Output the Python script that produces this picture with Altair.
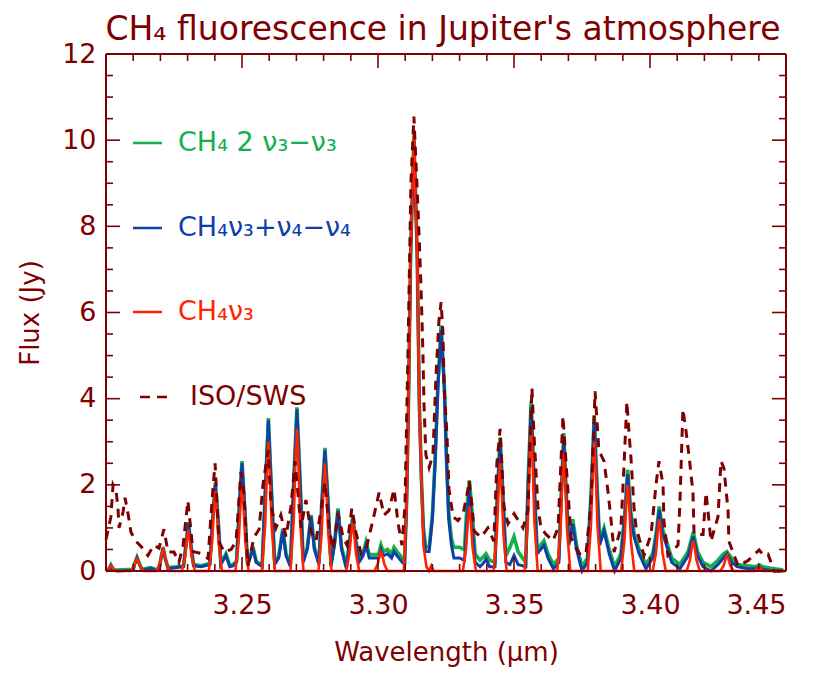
import altair as alt
import pandas as pd

# ---------------- data ----------------
# CH4 nu3 (red)
red_w = [3.2000, 3.2006, 3.2012, 3.2018, 3.2024, 3.2030, 3.2036,
         3.2090, 3.2102, 3.2109, 3.2114, 3.2119, 3.2126, 3.2138,
         3.2186, 3.2198, 3.2205, 3.2210, 3.2215, 3.2222, 3.2234,
         3.2279, 3.2291, 3.2298, 3.2303, 3.2308, 3.2315, 3.2327,
         3.2378, 3.2390, 3.2397, 3.2402, 3.2407, 3.2414, 3.2426,
         3.2476, 3.2488, 3.2495, 3.2500, 3.2505, 3.2512, 3.2524,
         3.2573, 3.2585, 3.2592, 3.2597, 3.2602, 3.2609, 3.2621,
         3.2678, 3.2690, 3.2697, 3.2702, 3.2707, 3.2714, 3.2726,
         3.2781, 3.2793, 3.2800, 3.2805, 3.2810, 3.2817, 3.2829,
         3.2883, 3.2895, 3.2902, 3.2907, 3.2912, 3.2919, 3.2931,
         3.2987, 3.2999, 3.3006, 3.3011, 3.3016, 3.3023, 3.3035,
         3.3095, 3.3105, 3.3112, 3.3120, 3.3132, 3.3144, 3.3152, 3.3159, 3.3167, 3.3178, 3.3188, 3.3196, 3.3204,
         3.3312, 3.3324, 3.3331, 3.3336, 3.3341, 3.3348, 3.3360,
         3.3425, 3.3437, 3.3444, 3.3449, 3.3454, 3.3461, 3.3473,
         3.3539, 3.3551, 3.3558, 3.3563, 3.3568, 3.3575, 3.3587,
         3.3659, 3.3671, 3.3678, 3.3683, 3.3688, 3.3695, 3.3707,
         3.3771, 3.3783, 3.3790, 3.3795, 3.3800, 3.3807, 3.3819,
         3.3894, 3.3906, 3.3913, 3.3918, 3.3923, 3.3930, 3.3942,
         3.4010, 3.4022, 3.4029, 3.4034, 3.4039, 3.4046, 3.4058,
         3.4135, 3.4147, 3.4154, 3.4159, 3.4164, 3.4171, 3.4183,
         3.4259, 3.4271, 3.4278, 3.4283, 3.4288, 3.4295, 3.4307,
         3.4385, 3.4395, 3.4401, 3.4407, 3.4417, 3.4500]
red_v = [0.0, 0.02, 0.09, 0.12, 0.09, 0.02, 0.0,
         0.0, 0.1, 0.22, 0.28, 0.22, 0.1, 0.0,
         0.0, 0.18, 0.4, 0.5, 0.4, 0.18, 0.0,
         0.0, 0.33, 0.76, 0.95, 0.76, 0.33, 0.0,
         0.0, 0.65, 1.48, 1.85, 1.48, 0.65, 0.0,
         0.0, 0.7, 1.6, 2.0, 1.6, 0.7, 0.0,
         0.0, 1.05, 2.4, 3.0, 2.4, 1.05, 0.0,
         0.0, 1.15, 2.64, 3.3, 2.64, 1.15, 0.0,
         0.0, 0.88, 2.0, 2.5, 2.0, 0.88, 0.0,
         0.0, 0.4, 0.92, 1.15, 0.92, 0.4, 0.0,
         0.0, 0.16, 0.36, 0.45, 0.36, 0.16, 0.0,
         0.0, 1.5, 3.8, 7.3, 10.2, 7.3, 3.8, 2.3, 0.6, 0.1, 0.0, 0.12, 0.0,
         0.0, 0.53, 1.2, 1.5, 1.2, 0.53, 0.0,
         0.0, 0.88, 2.0, 2.5, 2.0, 0.88, 0.0,
         0.0, 1.17, 2.68, 3.35, 2.68, 1.17, 0.0,
         0.0, 0.96, 2.2, 2.75, 2.2, 0.96, 0.0,
         0.0, 1.05, 2.4, 3.0, 2.4, 1.05, 0.0,
         0.0, 0.7, 1.6, 2.0, 1.6, 0.7, 0.0,
         0.0, 0.42, 0.96, 1.2, 0.96, 0.42, 0.0,
         0.0, 0.25, 0.56, 0.7, 0.56, 0.25, 0.0,
         0.0, 0.13, 0.29, 0.36, 0.29, 0.13, 0.0,
         0.0, 0.05, 0.1, 0.05, 0.0, 0.0]

# CH4 nu3+nu4-nu4 (blue) and CH4 2nu3-nu3 (green), same wavelength grid
band_w = [3.2000, 3.2010, 3.2018, 3.2026, 3.2040, 3.2100, 3.2105, 3.2114, 3.2123, 3.2132,
          3.2165, 3.2180, 3.2195, 3.2201, 3.2210, 3.2219, 3.2228, 3.2260, 3.2285, 3.2293,
          3.2303, 3.2313, 3.2322, 3.2350, 3.2382, 3.2391, 3.2402, 3.2413, 3.2422, 3.2441,
          3.2455, 3.2467, 3.2480, 3.2489, 3.2500, 3.2511, 3.2520, 3.2530, 3.2540, 3.2552,
          3.2574, 3.2586, 3.2597, 3.2608, 3.2620, 3.2635, 3.2650, 3.2662, 3.2678, 3.2690,
          3.2702, 3.2714, 3.2725, 3.2740, 3.2754, 3.2766, 3.2783, 3.2793, 3.2805, 3.2817,
          3.2827, 3.2840, 3.2853, 3.2866, 3.2884, 3.2895, 3.2907, 3.2919, 3.2930, 3.2945,
          3.2956, 3.2968, 3.2990, 3.3003, 3.3011, 3.3019, 3.3035, 3.3050, 3.3059, 3.3070,
          3.3090, 3.3098, 3.3105, 3.3112, 3.3120, 3.3132, 3.3144, 3.3152, 3.3160, 3.3167,
          3.3175, 3.3188, 3.3200, 3.3210, 3.3220, 3.3232, 3.3244, 3.3252, 3.3260, 3.3270,
          3.3279, 3.3300, 3.3318, 3.3325, 3.3336, 3.3347, 3.3357, 3.3375, 3.3390, 3.3397,
          3.3410, 3.3430, 3.3438, 3.3449, 3.3460, 3.3470, 3.3485, 3.3500, 3.3515, 3.3543,
          3.3552, 3.3563, 3.3574, 3.3585, 3.3598, 3.3610, 3.3625, 3.3645, 3.3665, 3.3673,
          3.3683, 3.3693, 3.3702, 3.3716, 3.3730, 3.3750, 3.3770, 3.3784, 3.3795, 3.3806,
          3.3815, 3.3831, 3.3850, 3.3870, 3.3893, 3.3907, 3.3918, 3.3929, 3.3941, 3.3960,
          3.3985, 3.4010, 3.4023, 3.4034, 3.4045, 3.4060, 3.4080, 3.4100, 3.4110, 3.4140,
          3.4159, 3.4175, 3.4195, 3.4224, 3.4250, 3.4270, 3.4283, 3.4300, 3.4320, 3.4360,
          3.4390, 3.4401, 3.4415, 3.4440, 3.4460, 3.4490]
blue_v = [0.0, 0.02, 0.12, 0.02, 0.0, 0.02, 0.15, 0.3, 0.15, 0.02,
          0.06, 0.02, 0.03, 0.25, 0.52, 0.25, 0.05, 0.08, 0.1, 0.55,
          1.1, 0.55, 0.12, 0.1, 0.15, 1.1, 2.0, 1.1, 0.15, 0.36,
          0.1, 0.12, 0.2, 1.35, 2.5, 1.35, 0.15, 0.3, 0.53, 0.2,
          0.1, 1.9, 3.5, 1.9, 0.15, 0.3, 0.93, 0.35, 0.1, 2.0,
          3.75, 2.0, 0.2, 0.5, 1.26, 0.5, 0.15, 1.5, 2.8, 1.5,
          0.1, 0.6, 1.4, 0.5, 0.05, 0.65, 1.2, 0.65, 0.2, 0.35,
          0.6, 0.3, 0.3, 0.3, 0.5, 0.35, 0.4, 0.3, 0.45, 0.35,
          0.2, 0.15, 1.5, 3.8, 7.3, 10.0, 7.3, 3.8, 2.0, 0.9,
          0.45, 0.45, 1.2, 2.5, 4.2, 5.6, 4.2, 2.5, 1.2, 0.6,
          0.3, 0.3, 0.25, 1.0, 1.9, 1.0, 0.2, 0.1, 0.2, 0.28,
          0.1, 0.1, 1.6, 3.0, 1.6, 0.2, 0.15, 0.36, 0.15, 0.1,
          2.0, 3.8, 2.0, 0.4, 0.5, 0.6, 0.3, 0.05, 0.2, 1.6,
          3.05, 1.6, 0.6, 1.09, 0.5, 0.0, 0.2, 1.8, 3.45, 1.8,
          0.6, 0.93, 0.4, 0.0, 0.3, 1.2, 2.25, 1.3, 0.8, 0.4,
          0.05, 0.3, 0.8, 1.42, 0.9, 0.6, 0.2, 0.1, 0.05, 0.35,
          0.8, 0.35, 0.1, 0.0, 0.15, 0.3, 0.4, 0.2, 0.1, 0.05,
          0.05, 0.1, 0.04, 0.02, 0.0, 0.0]
green_v = [0.02, 0.04, 0.14, 0.04, 0.02, 0.04, 0.17, 0.32, 0.17, 0.04,
           0.08, 0.04, 0.05, 0.27, 0.55, 0.27, 0.08, 0.1, 0.12, 0.57,
           1.13, 0.57, 0.15, 0.12, 0.18, 1.13, 2.05, 1.13, 0.18, 0.4,
           0.13, 0.15, 0.23, 1.38, 2.55, 1.38, 0.18, 0.33, 0.57, 0.23,
           0.13, 1.93, 3.55, 1.93, 0.2, 0.35, 0.98, 0.4, 0.15, 2.05,
           3.8, 2.05, 0.25, 0.55, 1.3, 0.55, 0.2, 1.55, 2.86, 1.55,
           0.15, 0.65, 1.45, 0.55, 0.1, 0.7, 1.25, 0.7, 0.27, 0.42,
           0.68, 0.38, 0.38, 0.4, 0.6, 0.45, 0.5, 0.4, 0.55, 0.45,
           0.3, 0.25, 1.6, 3.9, 7.4, 10.1, 7.4, 3.9, 2.1, 1.0,
           0.55, 0.55, 1.3, 2.6, 4.3, 5.7, 4.3, 2.6, 1.35, 0.75,
           0.55, 0.55, 0.5, 1.3, 2.1, 1.3, 0.4, 0.25, 0.35, 0.4,
           0.25, 0.2, 1.7, 3.1, 1.7, 0.35, 0.55, 0.8, 0.45, 0.2,
           2.1, 3.95, 2.1, 0.5, 0.6, 0.7, 0.4, 0.15, 0.3, 1.7,
           3.2, 1.7, 0.7, 1.2, 0.6, 0.1, 0.3, 1.9, 3.6, 1.9,
           0.7, 1.0, 0.5, 0.1, 0.4, 1.3, 2.35, 1.4, 0.9, 0.5,
           0.15, 0.4, 0.9, 1.5, 1.0, 0.7, 0.3, 0.2, 0.15, 0.45,
           0.9, 0.45, 0.2, 0.1, 0.25, 0.4, 0.45, 0.3, 0.15, 0.12,
           0.1, 0.15, 0.1, 0.07, 0.05, 0.02]

# ISO/SWS observed spectrum (dashed)
iso_w = [3.2000, 3.2018, 3.2026, 3.2037, 3.2044, 3.2048, 3.2063, 3.2070, 3.2081, 3.2092,
         3.2110, 3.2129, 3.2154, 3.2176, 3.2195, 3.2213, 3.2228, 3.2250, 3.2268, 3.2283,
         3.2301, 3.2320, 3.2349, 3.2375, 3.2393, 3.2401, 3.2415, 3.2434, 3.2460, 3.2478,
         3.2496, 3.2507, 3.2522, 3.2544, 3.2563, 3.2577, 3.2596, 3.2607, 3.2625, 3.2643,
         3.2662, 3.2680, 3.2695, 3.2717, 3.2735, 3.2754, 3.2772, 3.2790, 3.2805, 3.2820,
         3.2835, 3.2853, 3.2871, 3.2886, 3.2904, 3.2919, 3.2938, 3.2956, 3.2982, 3.3004,
         3.3022, 3.3040, 3.3059, 3.3074, 3.3088, 3.3099, 3.3110, 3.3121, 3.3132, 3.3143,
         3.3151, 3.3158, 3.3165, 3.3169, 3.3176, 3.3188, 3.3202, 3.3213, 3.3224, 3.3232,
         3.3239, 3.3243, 3.3254, 3.3261, 3.3276, 3.3294, 3.3313, 3.3331, 3.3335, 3.3346,
         3.3353, 3.3379, 3.3404, 3.3426, 3.3437, 3.3449, 3.3463, 3.3478, 3.3500, 3.3533,
         3.3551, 3.3566, 3.3574, 3.3588, 3.3599, 3.3618, 3.3643, 3.3662, 3.3680, 3.3691,
         3.3710, 3.3728, 3.3746, 3.3765, 3.3783, 3.3798, 3.3812, 3.3831, 3.3846, 3.3857,
         3.3868, 3.3893, 3.3904, 3.3915, 3.3923, 3.3930, 3.3941, 3.3949, 3.3978, 3.4004,
         3.4022, 3.4033, 3.4048, 3.4051, 3.4066, 3.4103, 3.4110, 3.4121, 3.4132, 3.4143,
         3.4158, 3.4162, 3.4176, 3.4195, 3.4206, 3.4213, 3.4224, 3.4250, 3.4261, 3.4272,
         3.4287, 3.4290, 3.4324, 3.4360, 3.4401, 3.4419, 3.4434, 3.4456, 3.4489]
iso_v = [0.73, 1.26, 2.0, 1.86, 1.46, 1.0, 1.38, 1.7, 1.33, 0.9,
         0.69, 0.57, 0.36, 0.6, 0.53, 0.97, 0.44, 0.44, 0.2, 0.57,
         1.63, 0.45, 0.41, 0.29, 1.9, 2.5, 0.69, 0.44, 0.5, 0.69,
         2.3, 1.8, 0.12, 0.78, 0.97, 2.0, 2.8, 1.5, 1.0, 1.3,
         0.8, 1.5, 2.55, 1.0, 1.65, 0.9, 0.7, 1.4, 2.06, 1.0,
         0.5, 1.34, 0.8, 0.6, 1.46, 0.9, 0.4, 0.5, 1.2, 1.82,
         1.3, 1.4, 1.9, 1.1, 0.6, 1.5, 5.0, 9.0, 10.55, 9.0,
         7.8, 6.6, 5.1, 3.9, 2.7, 2.4, 2.7, 4.5, 5.8, 6.24,
         5.5, 4.3, 3.1, 1.9, 1.26, 1.17, 1.33, 1.9, 2.1, 1.5,
         0.93, 0.78, 1.0, 0.69, 2.5, 3.3, 1.5, 1.1, 1.33, 1.0,
         1.4, 4.25, 3.1, 1.5, 1.0, 0.85, 0.7, 1.0, 3.6, 2.55,
         0.77, 0.53, 0.36, 0.44, 1.58, 4.17, 2.8, 2.55, 1.82, 1.17,
         0.44, 1.0, 2.38, 3.93, 3.2, 2.62, 1.5, 1.0, 0.36, 0.85,
         2.0, 2.55, 2.0, 1.17, 0.36, 0.6, 1.58, 3.76, 3.27, 2.7,
         1.82, 0.85, 0.85, 0.85, 1.82, 1.4, 0.69, 1.26, 2.55, 2.38,
         1.4, 0.69, 0.12, 0.24, 0.49, 0.36, 0.39, 0.0, 0.0]

# axis ticks and labels
x_labels = [3.25, 3.30, 3.35, 3.40, 3.45]
x_major_ticks = [3.25, 3.30, 3.35, 3.40]
x_minor_ticks = [3.21, 3.22, 3.23, 3.24, 3.26, 3.27, 3.28, 3.29, 3.31, 3.32, 3.33, 3.34,
                 3.36, 3.37, 3.38, 3.39, 3.41, 3.42, 3.43, 3.44]
y_labels = [0, 2, 4, 6, 8, 10, 12]
y_major_ticks = [2, 4, 6, 8, 10]
y_minor_ticks = [0.5, 1, 1.5, 2.5, 3, 3.5, 4.5, 5, 5.5, 6.5, 7, 7.5, 8.5, 9, 9.5,
                 10.5, 11, 11.5]

title_text = ["CH₄ fluorescence in Jupiter's atmosphere"]
legend_labels = ["CH₄ 2 ν₃−ν₃", "CH₄ν₃+ν₄−ν₄", "CH₄ν₃", "ISO/SWS"]

# ---------------- style ----------------
DARK = "#7f0000"
GREEN = "#14b04c"
BLUE = "#0f40a8"
RED = "#ff2400"
FONT = "DejaVu Sans"
W, H = 680, 517

xscale = alt.Scale(domain=[3.20, 3.45], nice=False, zero=False)
yscale = alt.Scale(domain=[0, 12], nice=False, zero=False)

x_enc = alt.X("w:Q", scale=xscale,
              axis=alt.Axis(values=x_labels, format=".2f", ticks=False, domain=False, grid=False,
                            labelFont=FONT, labelFontSize=27, labelColor=DARK, labelPadding=21,
                            title="Wavelength (μm)", titleFont=FONT, titleFontSize=26,
                            titleFontWeight="normal", titleColor=DARK, titlePadding=21))
y_enc = alt.Y("flux:Q", scale=yscale,
              axis=alt.Axis(values=y_labels, ticks=False, domain=False, grid=False,
                            labelFont=FONT, labelFontSize=27, labelColor=DARK, labelPadding=10,
                            title="Flux (Jy)", titleFont=FONT, titleFontSize=26,
                            titleFontWeight="normal", titleColor=DARK, titlePadding=18))

df_red = pd.DataFrame({"w": red_w, "flux": red_v})
df_blue = pd.DataFrame({"w": band_w, "flux": blue_v})
df_green = pd.DataFrame({"w": band_w, "flux": green_v})
df_iso = pd.DataFrame({"w": iso_w, "flux": iso_v})

green_line = alt.Chart(df_green).mark_line(color=GREEN, strokeWidth=3.6).encode(x=x_enc, y=y_enc)
blue_line = alt.Chart(df_blue).mark_line(color=BLUE, strokeWidth=3).encode(x=x_enc, y=y_enc)
red_line = alt.Chart(df_red).mark_line(color=RED, strokeWidth=2.6).encode(x=x_enc, y=y_enc)
iso_line = alt.Chart(df_iso).mark_line(color=DARK, strokeWidth=3, strokeDash=[9, 7]).encode(x=x_enc, y=y_enc)

# plot frame
frame_df = pd.DataFrame({"k": [0]})
frame = [
    alt.Chart(frame_df).mark_rule(color=DARK, strokeWidth=2).encode(
        x=alt.value(0), x2=alt.value(W), y=alt.value(0)),
    alt.Chart(frame_df).mark_rule(color=DARK, strokeWidth=2).encode(
        x=alt.value(0), x2=alt.value(W), y=alt.value(H)),
    alt.Chart(frame_df).mark_rule(color=DARK, strokeWidth=2).encode(
        y=alt.value(0), y2=alt.value(H), x=alt.value(0)),
    alt.Chart(frame_df).mark_rule(color=DARK, strokeWidth=2).encode(
        y=alt.value(0), y2=alt.value(H), x=alt.value(W)),
]

# inward ticks on all four sides
def xticks(vals, length):
    d = pd.DataFrame({"w": vals})
    bot = alt.Chart(d).mark_rule(color=DARK, strokeWidth=1.6).encode(
        x=x_enc, y=alt.value(H), y2=alt.value(H - length))
    top = alt.Chart(d).mark_rule(color=DARK, strokeWidth=1.6).encode(
        x=x_enc, y=alt.value(0), y2=alt.value(length))
    return [bot, top]

def yticks(vals, length):
    d = pd.DataFrame({"flux": vals})
    left = alt.Chart(d).mark_rule(color=DARK, strokeWidth=1.6).encode(
        y=y_enc, x=alt.value(0), x2=alt.value(length))
    right = alt.Chart(d).mark_rule(color=DARK, strokeWidth=1.6).encode(
        y=y_enc, x=alt.value(W), x2=alt.value(W - length))
    return [left, right]

tick_layers = (xticks(x_major_ticks, 14) + xticks(x_minor_ticks, 7)
               + yticks(y_major_ticks, 14) + yticks(y_minor_ticks, 7))

# legend drawn inside the plot
leg_colors = [GREEN, BLUE, RED, DARK]
leg_y = [89, 174, 258, 343]
legend_layers = []
for i, (lab, col, yy) in enumerate(zip(legend_labels, leg_colors, leg_y)):
    dash = [10, 7] if i == 3 else [1, 0]
    x1 = 34 if i == 3 else 27
    x2 = 68 if i == 3 else 56
    tx = 84 if i == 3 else 72
    seg = alt.Chart(pd.DataFrame({"k": [0]})).mark_rule(
        color=col, strokeWidth=2.5, strokeDash=dash).encode(
        x=alt.value(x1), x2=alt.value(x2), y=alt.value(yy))
    txt = alt.Chart(pd.DataFrame({"t": [lab]})).mark_text(
        align="left", baseline="middle", font=FONT, fontSize=27, color=col).encode(
        x=alt.value(tx), y=alt.value(yy), text="t:N")
    legend_layers += [seg, txt]

title_layer = alt.Chart(pd.DataFrame({"t": title_text})).mark_text(
    align="center", baseline="alphabetic", font=FONT, fontSize=33, color=DARK).encode(
    x=alt.value(W / 2 - 3), y=alt.value(-14), text="t:N")

chart = alt.layer(
    green_line, blue_line, red_line, iso_line, *frame, *tick_layers, *legend_layers, title_layer
).properties(
    width=W, height=H,
    autosize=alt.AutoSizeParams(type="none"),
    padding={"left": 98, "top": 46, "right": 23, "bottom": 96},
).configure_view(
    strokeWidth=0
).configure(background="white")

chart.save("out.html", embed_options={"renderer": "svg", "actions": False})
